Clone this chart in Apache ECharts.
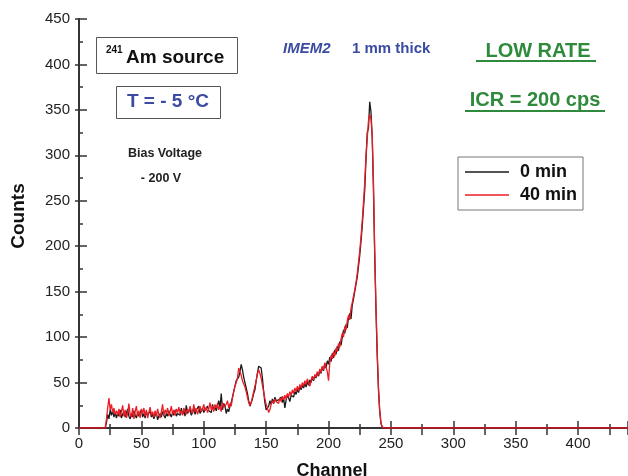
<!DOCTYPE html>
<html><head><meta charset="utf-8">
<script src="https://cdn.jsdelivr.net/npm/echarts@6/dist/echarts.min.js"></script>
<style>html,body{margin:0;padding:0;background:#fff}#c{width:628px;height:476px}</style>
</head><body><div id="c"></div>
<script>
// Data: counts per channel, starting at channel 21
const startChannel = 21;
const zeroChannels = [0, 440];   // channels with zero counts at both ends of the range
const seriesNames = ['0 min', '40 min'];
const counts0min = [
  0, 6, 15, 10, 20, 14, 19, 12, 17, 11,
  16, 13, 20, 11, 15, 18, 12, 14, 21, 13,
  10, 16, 12, 19, 14, 11, 17, 13, 15, 20,
  12, 16, 11, 18, 14, 13, 19, 12, 15, 10,
  14, 17, 9, 13, 16, 12, 18, 14, 11, 16,
  13, 19, 15, 12, 17, 14, 20, 13, 16, 18,
  14, 22, 15, 19, 13, 25, 16, 18, 21, 14,
  17, 23, 15, 20, 18, 24, 16, 19, 22, 17,
  20, 18, 24, 19, 21, 17, 26, 20, 23, 19,
  25, 30, 22, 38, 20, 27, 24, 16, 21, 18,
  24, 28, 34, 40, 46, 52, 50, 56, 62, 70,
  64, 56, 50, 44, 38, 30, 24, 28, 32, 38,
  42, 52, 60, 68, 70, 66, 55, 40, 28, 20,
  18, 24, 30, 26, 32, 27, 34, 30, 28, 31,
  30, 34, 28, 33, 22, 31, 36, 33, 29, 36,
  38, 34, 40, 37, 43, 39, 46, 42, 47, 44,
  49, 45, 51, 47, 53, 50, 56, 52, 58, 55,
  61, 57, 64, 60, 67, 63, 71, 66, 74, 70,
  78, 73, 82, 77, 86, 81, 90, 85, 95, 91,
  100, 108, 104, 114, 110, 122, 126, 120, 135, 142,
  150, 158, 166, 178, 190, 205, 222, 242, 262, 295,
  325, 330, 359, 348, 320, 262, 190, 130, 80, 42,
  18, 5, 1, 0, 0, 0, 0, 0, 0, 0
];
const counts40min = [
  0, 10, 22, 33, 20, 26, 17, 22, 15, 19,
  14, 21, 12, 18, 25, 13, 20, 11, 16, 27,
  15, 12, 22, 10, 18, 24, 13, 19, 11, 21,
  16, 22, 13, 20, 11, 17, 23, 14, 18, 12,
  19, 13, 21, 15, 11, 18, 26, 14, 20, 16,
  22, 13, 18, 24, 15, 20, 14, 21, 17, 23,
  16, 19, 14, 22, 18, 15, 21, 17, 24, 19,
  16, 26, 18, 22, 15, 20, 24, 18, 21, 26,
  19, 23, 17, 21, 28, 20, 24, 18, 26, 22,
  27, 20, 24, 18, 28, 23, 21, 26, 30, 22,
  27, 24, 33, 40, 46, 50, 55, 66, 64, 58,
  52, 50, 45, 40, 34, 28, 25, 28, 34, 40,
  46, 52, 60, 64, 60, 55, 47, 40, 32, 26,
  22, 17, 20, 26, 30, 27, 32, 29, 31, 27,
  33, 29, 35, 31, 36, 32, 38, 34, 40, 36,
  42, 38, 44, 40, 46, 41, 48, 44, 50, 46,
  52, 48, 54, 50, 46, 52, 57, 53, 59, 56,
  62, 58, 65, 61, 68, 64, 72, 67, 62, 52,
  72, 80, 76, 84, 79, 88, 84, 93, 89, 98,
  104, 100, 112, 108, 118, 124, 119, 132, 138, 145,
  152, 160, 170, 182, 195, 210, 228, 248, 270, 300,
  318, 338, 345, 340, 322, 270, 195, 135, 85, 45,
  20, 6, 1, 0, 0, 0, 0, 0, 0, 0
];

function toPairs(vals) {
  const out = [[zeroChannels[0], 0]];
  vals.forEach((v, i) => out.push([startChannel + i, v]));
  out.push([zeroChannels[1], 0]);
  return out;
}

const FONT = "'Liberation Sans', Arial, sans-serif";
const AX = '#333';
const BLUE = '#3b4aa3';
const GREEN = '#2f8a3c';

const chart = echarts.init(document.getElementById('c'), null, {renderer: 'canvas'});
const axisLineStyle = {color: AX, width: 2};
const tickStyle = {color: AX, width: 1.5};

chart.setOption({
  animation: false,
  backgroundColor: '#fff',
  grid: {left: 79, right: 0, top: 19, bottom: 48, containLabel: false},
  legend: {
    data: seriesNames,
    orient: 'vertical',
    left: 458, top: 157,
    padding: [5, 6, 5, 7],
    borderColor: '#777', borderWidth: 1,
    itemWidth: 44, itemHeight: 1.6, itemGap: 3,
    icon: 'rect',
    textStyle: {fontFamily: FONT, fontWeight: 'bold', fontSize: 18, color: '#111', lineHeight: 20, padding: [0, 0, 0, 6]}
  },
  xAxis: [
    {type: 'value', position: 'bottom', min: 0, max: 440, interval: 50,
     axisLine: {show: true, lineStyle: axisLineStyle},
     axisTick: {show: true, inside: true, length: 7, lineStyle: tickStyle},
     minorTick: {show: true, splitNumber: 2, length: 4, lineStyle: tickStyle},
     axisLabel: {show: true, showMaxLabel: false, margin: 8, fontFamily: FONT, fontSize: 15, color: '#222'},
     splitLine: {show: false}},
    {type: 'value', position: 'top', min: 0, max: 440, interval: 25,
     axisLine: {show: true, lineStyle: axisLineStyle},
     axisTick: {show: true, inside: true, length: 7, lineStyle: tickStyle},
     axisLabel: {show: false}, splitLine: {show: false}}
  ],
  yAxis: [
    {type: 'value', position: 'left', min: 0, max: 450, interval: 50,
     axisLine: {show: true, lineStyle: axisLineStyle},
     axisTick: {show: true, inside: true, length: 8, lineStyle: tickStyle},
     minorTick: {show: true, splitNumber: 2, length: 4, lineStyle: tickStyle},
     axisLabel: {show: true, margin: 9, fontFamily: FONT, fontSize: 15, color: '#222'},
     splitLine: {show: false}},
    {type: 'value', position: 'right', min: 0, max: 450, interval: 50,
     axisLine: {show: true, lineStyle: axisLineStyle},
     axisTick: {show: true, inside: true, length: 4, lineStyle: tickStyle},
     axisLabel: {show: false}, splitLine: {show: false}}
  ],
  series: [
    {name: seriesNames[0], type: 'line', data: toPairs(counts0min), symbol: 'none',
     lineStyle: {color: '#1a1a1a', width: 1.3}, itemStyle: {color: '#1a1a1a'}, z: 3},
    {name: seriesNames[1], type: 'line', data: toPairs(counts40min), symbol: 'none',
     lineStyle: {color: '#ec1c24', width: 1.3}, itemStyle: {color: '#ec1c24'}, z: 4}
  ],
  graphic: [
    {type: 'text', x: 19, y: 216, rotation: Math.PI / 2,
     style: {text: 'Counts', font: "bold 19px " + FONT, fill: '#111', align: 'center', verticalAlign: 'middle', textAlign: 'center', textVerticalAlign: 'middle'}},
    {type: 'text', x: 332, y: 471,
     style: {text: 'Channel', font: "bold 18px " + FONT, fill: '#111', align: 'center', verticalAlign: 'middle', textAlign: 'center', textVerticalAlign: 'middle'}},
    // 241Am source box
    {type: 'rect', shape: {x: 96.5, y: 37.5, width: 141, height: 36}, style: {fill: 'none', stroke: '#555', lineWidth: 1}},
    {type: 'text', x: 106, y: 50, style: {text: '241', font: "bold 10px " + FONT, fill: '#111', align: 'left', verticalAlign: 'middle', textAlign: 'left', textVerticalAlign: 'middle'}},
    {type: 'text', x: 126, y: 58, style: {text: 'Am source', font: "bold 19px " + FONT, fill: '#111', align: 'left', verticalAlign: 'middle', textAlign: 'left', textVerticalAlign: 'middle'}},
    // Temperature box
    {type: 'rect', shape: {x: 116.5, y: 86.5, width: 104, height: 32}, style: {fill: 'none', stroke: '#555', lineWidth: 1}},
    {type: 'text', x: 168, y: 102, style: {text: 'T = - 5 °C', font: "bold 19px " + FONT, fill: BLUE, align: 'center', verticalAlign: 'middle', textAlign: 'center', textVerticalAlign: 'middle'}},
    {type: 'text', x: 165, y: 154, style: {text: 'Bias Voltage', font: "bold 12.5px " + FONT, fill: '#222', align: 'center', verticalAlign: 'middle', textAlign: 'center', textVerticalAlign: 'middle'}},
    {type: 'text', x: 161, y: 179, style: {text: '- 200 V', font: "bold 12.5px " + FONT, fill: '#222', align: 'center', verticalAlign: 'middle', textAlign: 'center', textVerticalAlign: 'middle'}},
    {type: 'text', x: 283, y: 49, style: {text: 'IMEM2', font: "italic bold 15px " + FONT, fill: BLUE, align: 'left', verticalAlign: 'middle', textAlign: 'left', textVerticalAlign: 'middle'}},
    {type: 'text', x: 352, y: 49, style: {text: '1 mm thick', font: "bold 15px " + FONT, fill: BLUE, align: 'left', verticalAlign: 'middle', textAlign: 'left', textVerticalAlign: 'middle'}},
    {type: 'text', x: 538, y: 51, style: {text: 'LOW RATE', font: "bold 20px " + FONT, fill: GREEN, align: 'center', verticalAlign: 'middle', textAlign: 'center', textVerticalAlign: 'middle'}},
    {type: 'line', shape: {x1: 476, y1: 61, x2: 596, y2: 61}, style: {stroke: GREEN, lineWidth: 2}},
    {type: 'text', x: 535, y: 100, style: {text: 'ICR = 200 cps', font: "bold 20px " + FONT, fill: GREEN, align: 'center', verticalAlign: 'middle', textAlign: 'center', textVerticalAlign: 'middle'}},
    {type: 'line', shape: {x1: 465, y1: 111, x2: 605, y2: 111}, style: {stroke: GREEN, lineWidth: 2}}
  ]
});
</script></body></html>
